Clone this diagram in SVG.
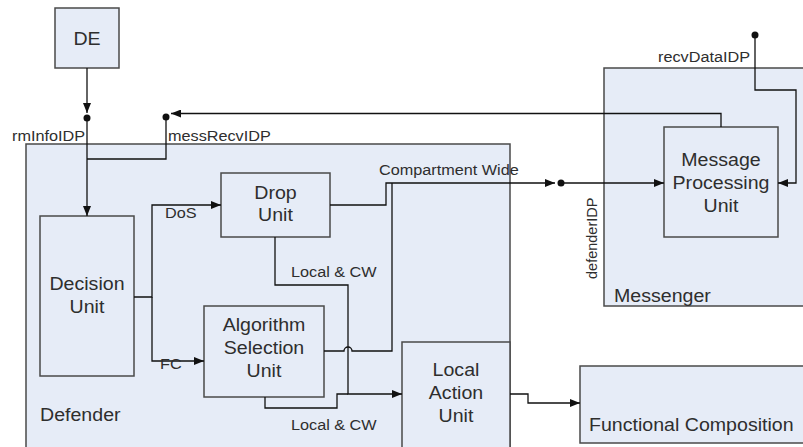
<svg xmlns="http://www.w3.org/2000/svg" width="803" height="447" viewBox="0 0 803 447">
  <style>
    .box { fill: #e6ecf7; stroke: #4a4a4a; stroke-width: 1.5; }
    .wire { fill: none; stroke: #111; stroke-width: 1.3; }
    .dot { fill: #111; }
    text { font-family: "Liberation Sans", Arial, sans-serif; fill: #2e2e2e; }
    .nl { font-size: 17.5px; text-anchor: middle; transform-box: fill-box; transform-origin: center; transform: scaleX(1.12); }
    .cl { font-size: 17.5px; transform-box: fill-box; transform-origin: left; transform: scaleX(1.12); }
    .lb { font-size: 14.5px; transform-box: fill-box; transform-origin: left; transform: scaleX(1.12); }
    .lbr { font-size: 14.5px; text-anchor: end; transform-box: fill-box; transform-origin: right; transform: scaleX(1.12); }
  </style>
  <defs>
    <marker id="arrow" viewBox="0 0 10 8" refX="10" refY="4" markerWidth="10" markerHeight="8" markerUnits="userSpaceOnUse" orient="auto">
      <path d="M0,0 L10,4 L0,8 Z" fill="#111"/>
    </marker>
  </defs>

  <!-- containers -->
  <g id="defender">
    <rect class="box" x="26" y="144" width="484" height="306"/>
    <text class="cl" x="40" y="421">Defender</text>
  </g>
  <g id="messenger">
    <rect class="box" x="604" y="68" width="210" height="238"/>
    <text class="cl" x="614" y="302">Messenger</text>
  </g>
  <g id="functional-composition">
    <rect class="box" x="580" y="366" width="234" height="77"/>
    <text class="cl" x="589" y="431">Functional Composition</text>
  </g>

  <!-- nodes -->
  <g id="de">
    <rect class="box" x="55" y="8" width="64" height="60"/>
    <text class="nl" x="87" y="45">DE</text>
  </g>
  <g id="decision-unit">
    <rect class="box" x="40" y="216" width="94" height="160"/>
    <text class="nl" x="87" y="290">Decision</text>
    <text class="nl" x="87" y="313">Unit</text>
  </g>
  <g id="drop-unit">
    <rect class="box" x="221" y="173" width="109" height="64"/>
    <text class="nl" x="275.5" y="199">Drop</text>
    <text class="nl" x="275.5" y="221">Unit</text>
  </g>
  <g id="algorithm-selection-unit">
    <rect class="box" x="204" y="306" width="120" height="91"/>
    <text class="nl" x="264" y="331">Algorithm</text>
    <text class="nl" x="264" y="354">Selection</text>
    <text class="nl" x="264" y="377">Unit</text>
  </g>
  <g id="local-action-unit">
    <rect class="box" x="402" y="342" width="108" height="108"/>
    <text class="nl" x="456" y="376">Local</text>
    <text class="nl" x="456" y="399">Action</text>
    <text class="nl" x="456" y="422">Unit</text>
  </g>
  <g id="message-processing-unit">
    <rect class="box" x="664" y="127" width="114" height="110"/>
    <text class="nl" x="721" y="166">Message</text>
    <text class="nl" x="721" y="189">Processing</text>
    <text class="nl" x="721" y="212">Unit</text>
  </g>

  <!-- connectors -->
  <g id="connectors">
    <!-- DE to Decision Unit through rmInfoIDP -->
    <path class="wire" d="M87,68 V113" marker-end="url(#arrow)"/>
    <circle class="dot" cx="87" cy="118" r="3.5"/>
    <path class="wire" d="M87,118 V216" marker-end="url(#arrow)"/>
    <!-- Message Processing Unit back to messRecvIDP -->
    <path class="wire" d="M721,127 V113.5 H171" marker-end="url(#arrow)"/>
    <circle class="dot" cx="166" cy="117" r="3.5"/>
    <path class="wire" d="M166,117 V159 H87"/>
    <!-- Decision Unit branches -->
    <path class="wire" d="M134,297 H152 V205 H221" marker-end="url(#arrow)"/>
    <path class="wire" d="M152,297 V361 H204" marker-end="url(#arrow)"/>
    <!-- compartment wide path to defenderIDP -->
    <path class="wire" d="M330,205 H386 V183 H555" marker-end="url(#arrow)"/>
    <circle class="dot" cx="561" cy="183" r="3.5"/>
    <path class="wire" d="M561,183 H664" marker-end="url(#arrow)"/>
    <path class="wire" d="M324,351 H344 A4,4 0 0 1 352,351 H392 V183"/>
    <!-- local & compartment wide paths -->
    <path class="wire" d="M275,237 V285 H348 V394 H402" marker-end="url(#arrow)"/>
    <path class="wire" d="M265,397 V408 H337 V394 H348"/>
    <!-- recvDataIDP into Message Processing Unit -->
    <circle class="dot" cx="755" cy="35" r="3.5"/>
    <path class="wire" d="M755,35 V90 H796 V183 H778" marker-end="url(#arrow)"/>
    <!-- Local Action Unit to Functional Composition -->
    <path class="wire" d="M510,394 H528 V403 H580" marker-end="url(#arrow)"/>
  </g>

  <!-- port and connector labels -->
  <g id="labels">
    <text class="lb" x="12" y="141">rmInfoIDP</text>
    <text class="lb" x="168" y="141">messRecvIDP</text>
    <text class="lbr" x="750" y="62">recvDataIDP</text>
    <text class="lb" x="379" y="175">Compartment Wide</text>
    <text class="lb" x="165" y="218">DoS</text>
    <text class="lb" x="160" y="369">FC</text>
    <text class="lb" x="291" y="277">Local &amp; CW</text>
    <text class="lb" x="291" y="430">Local &amp; CW</text>
    <text font-size="14.5" transform="translate(597,279) rotate(-90)">defenderIDP</text>
  </g>
</svg>
